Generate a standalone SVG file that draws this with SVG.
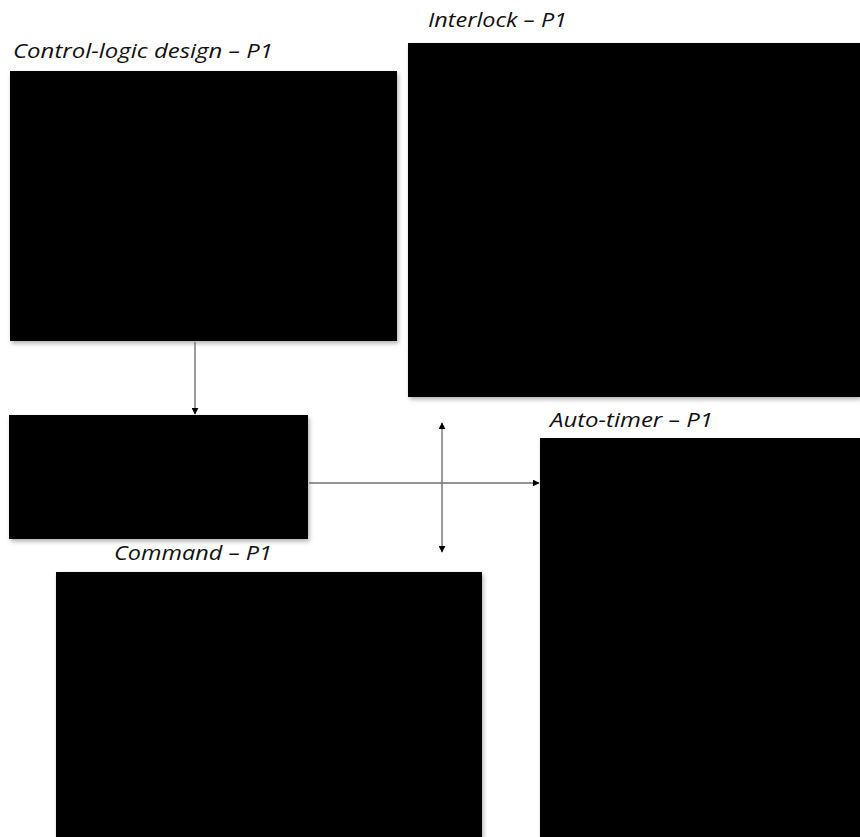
<svg xmlns="http://www.w3.org/2000/svg" width="860" height="837" viewBox="0 0 860 837">
<style>
.lbl{font-family:"Open Sans","Liberation Sans",sans-serif;font-style:italic;font-size:20.5px;fill:#111}
.box{fill:#000;filter:url(#sh)}
.con{stroke:#707070;stroke-width:1.4;fill:none}
</style>
<defs>
<filter id="sh" x="-5%" y="-5%" width="110%" height="110%">
<feDropShadow dx="1.5" dy="2.5" stdDeviation="2" flood-color="#000" flood-opacity="0.3"/>
</filter>
<marker id="ah" viewBox="0 0 10 10" refX="9" refY="5" markerWidth="7" markerHeight="7" orient="auto-start-reverse" markerUnits="userSpaceOnUse">
<path d="M0,0 L10,5 L0,10 Z" fill="#000"/>
</marker>
</defs>
<rect width="860" height="837" fill="#fff"/>
<g id="control-logic">
<rect class="box" x="10" y="71" width="387" height="270"/>
<text class="lbl" x="13" y="58" textLength="260" lengthAdjust="spacingAndGlyphs">Control-logic design – P1</text>
</g>
<g id="interlock">
<rect class="box" x="408" y="43" width="452" height="354"/>
<text class="lbl" x="428" y="27" textLength="139" lengthAdjust="spacingAndGlyphs">Interlock – P1</text>
</g>
<g id="middle">
<rect class="box" x="9" y="415" width="299" height="124"/>
</g>
<g id="command">
<rect class="box" x="56" y="572" width="426" height="265"/>
<text class="lbl" x="114" y="560" textLength="158" lengthAdjust="spacingAndGlyphs">Command – P1</text>
</g>
<g id="auto-timer">
<rect class="box" x="540" y="438" width="320" height="399"/>
<text class="lbl" x="550" y="427" textLength="163" lengthAdjust="spacingAndGlyphs">Auto-timer – P1</text>
</g>
<g id="connectors">
<line class="con" x1="195" y1="342" x2="195" y2="414" marker-end="url(#ah)"/>
<line class="con" x1="309" y1="483" x2="539" y2="483" marker-end="url(#ah)"/>
<line class="con" x1="442" y1="423" x2="442" y2="552" marker-start="url(#ah)" marker-end="url(#ah)"/>
</g>
</svg>
